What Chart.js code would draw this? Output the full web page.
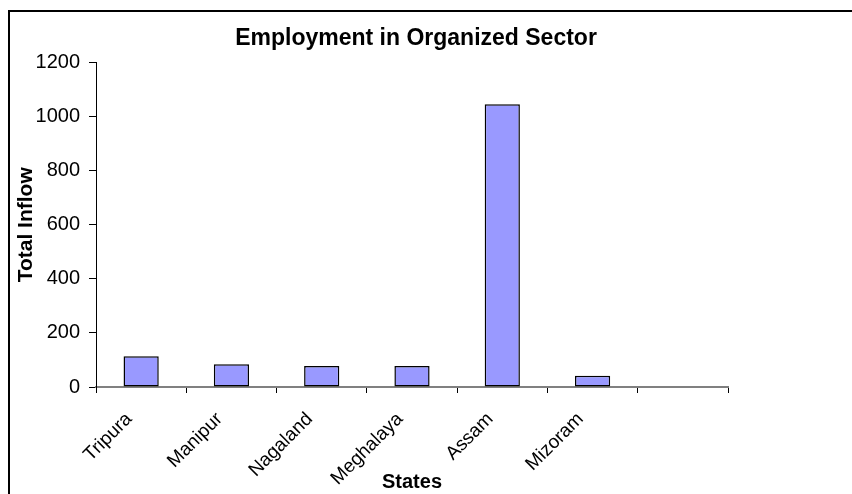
<!DOCTYPE html>
<html>
<head>
<meta charset="utf-8">
<script src="https://cdn.jsdelivr.net/npm/chart.js@4/dist/chart.umd.min.js"></script>
<style>
    html, body { margin: 0; padding: 0; background: #ffffff; }
    #chart1 { display: block; }
</style>
</head>
<body>
<canvas id="chart1" width="852" height="494"></canvas>
<script>
// donnees du graphique
const states = ['Tripura', 'Manipur', 'Nagaland', 'Meghalaya', 'Assam', 'Mizoram', ''];
const totalInflow = [114, 84, 78, 78, 1046, 42, null];
const yTicks = [0, 200, 400, 600, 800, 1000, 1200];

const fontFamily = '"Liberation Sans", Arial, sans-serif';

// fond blanc + cadre noir (haut et gauche)
const framePlugin = {
    id: 'frame',
    beforeDraw(chart) {
        const ctx = chart.ctx;
        ctx.save();
        ctx.fillStyle = '#ffffff';
        ctx.fillRect(0, 0, chart.width, chart.height);
        ctx.strokeStyle = '#000000';
        ctx.lineWidth = 2;
        ctx.beginPath();
        ctx.moveTo(9, chart.height);
        ctx.lineTo(9, 11);
        ctx.lineTo(chart.width, 11);
        ctx.stroke();
        ctx.restore();
    }
};

var ctx = document.getElementById('chart1').getContext('2d');
var myChart = new Chart(ctx, {
    type: 'bar',
    data: {
        labels: states,
        datasets: [{
            label: 'Total Inflow',
            data: totalInflow,
            backgroundColor: '#9999ff',
            borderColor: '#000000',
            borderWidth: 1.5,
            borderSkipped: false,
            barPercentage: 0.39,
            categoryPercentage: 1.0
        }]
    },
    options: {
        responsive: false,
        animation: false,
        layout: {
            padding: { left: 0, right: 20, top: 0, bottom: 0 }
        },
        plugins: {
            legend: { display: false },
            tooltip: { enabled: false },
            title: {
                display: true,
                text: 'Employment in Organized Sector',
                color: '#000000',
                font: { family: fontFamily, size: 23, weight: 'bold' },
                padding: { top: 25, bottom: 10 }
            }
        },
        scales: {
            x: {
                grid: {
                    display: true,
                    drawOnChartArea: false,
                    drawTicks: true,
                    tickLength: 6,
                    color: '#000000',
                    offset: true
                },
                border: { display: true, color: '#808080', width: 2 },
                ticks: {
                    color: '#000000',
                    font: { family: fontFamily, size: 19 },
                    minRotation: 45,
                    maxRotation: 45,
                    autoSkip: false,
                    padding: 15,
                    labelOffset: -12
                },
                title: {
                    display: true,
                    text: 'States',
                    color: '#000000',
                    font: { family: fontFamily, size: 20, weight: 'bold' },
                    padding: { top: 0, bottom: 0 }
                },
                afterFit: function(scale) { scale.height = 107; }
            },
            y: {
                min: 0,
                max: 1200,
                afterBuildTicks: function(scale) {
                    scale.ticks = yTicks.map(v => ({ value: v }));
                },
                grid: {
                    display: true,
                    drawOnChartArea: false,
                    drawTicks: true,
                    tickLength: 7,
                    color: '#000000'
                },
                border: { display: true, color: '#000000', width: 1 },
                ticks: {
                    color: '#000000',
                    font: { family: fontFamily, size: 20 },
                    padding: 9,
                    callback: function(value) { return String(value); }
                },
                title: {
                    display: true,
                    text: 'Total Inflow',
                    color: '#000000',
                    font: { family: fontFamily, size: 21, weight: 'bold' },
                    padding: { top: 14, bottom: 0 }
                },
                afterFit: function(scale) { scale.width = 96; }
            },
            // axe vide a droite pour caler la zone du graphique
            yRight: {
                position: 'right',
                display: true,
                grid: { display: false },
                border: { display: false },
                ticks: { display: false },
                afterFit: function(scale) { scale.width = 104; }
            }
        }
    },
    plugins: [framePlugin]
});
</script>
</body>
</html>
